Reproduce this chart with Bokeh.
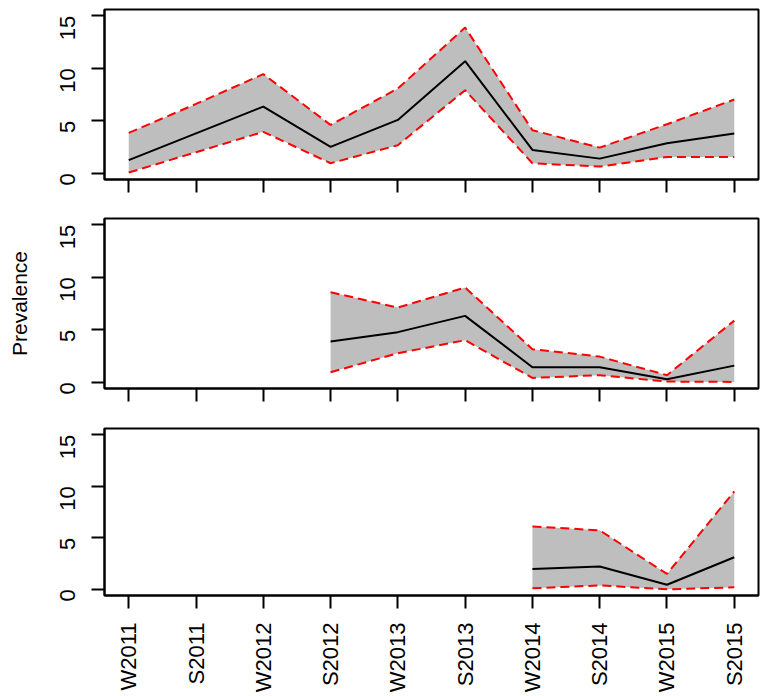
import math
from bokeh.plotting import figure
from bokeh.layouts import column
from bokeh.models import Range1d, FixedTicker, ColumnDataSource
from bokeh.embed import file_html
from bokeh.resources import INLINE

seasons = ["W2011", "S2011", "W2012", "S2012", "W2013", "S2013",
           "W2014", "S2014", "W2015", "S2015"]

p1_mean = [1.24, 3.8, 6.35, 2.51, 5.08, 10.68, 2.22, 1.39, 2.86, 3.78]
p1_upper = [3.84, 6.6, 9.44, 4.6, 8.07, 13.88, 4.1, 2.44, 4.67, 7.02]
p1_lower = [0.06, 2.0, 3.94, 0.95, 2.67, 7.91, 0.95, 0.63, 1.55, 1.55]

p2_mean = [None, None, None, 3.87, 4.77, 6.32, 1.43, 1.43, 0.29, 1.58]
p2_upper = [None, None, None, 8.58, 7.11, 9.02, 3.15, 2.44, 0.67, 5.87]
p2_lower = [None, None, None, 0.95, 2.76, 4.0, 0.41, 0.67, 0.06, 0.03]

p3_mean = [None, None, None, None, None, None, 1.96, 2.22, 0.44, 3.11]
p3_upper = [None, None, None, None, None, None, 6.1, 5.72, 1.49, 9.5]
p3_lower = [None, None, None, None, None, None, 0.1, 0.38, 0.0, 0.19]

y_ticks = [0, 5, 10, 15]
FONT = "Liberation Sans"
WIDTH = 760
LEFT = 104
FRAME_H = 170


def panel(mean, upper, lower, height, top, bottom, show_x, ylabel=None):
    p = figure(width=WIDTH, height=height, output_backend="svg",
               toolbar_location=None,
               x_range=Range1d(0.64, 10.36), y_range=Range1d(-0.6, 15.6),
               min_border_left=LEFT, min_border_right=2,
               min_border_top=top, min_border_bottom=bottom)
    p.grid.visible = False
    p.outline_line_color = "black"
    p.outline_line_width = 2
    p.background_fill_color = "white"
    p.border_fill_color = "white"

    idx = [i for i, m in enumerate(mean) if m is not None]
    src = ColumnDataSource(dict(
        x=[i + 1 for i in idx],
        m=[mean[i] for i in idx],
        u=[upper[i] for i in idx],
        l=[lower[i] for i in idx],
    ))
    p.varea(x="x", y1="l", y2="u", source=src, fill_color="#BEBEBE")
    p.line(x="x", y="u", source=src, line_color="red", line_width=2,
           line_dash="9 5")
    p.line(x="x", y="l", source=src, line_color="red", line_width=2,
           line_dash="9 5")
    p.line(x="x", y="m", source=src, line_color="black", line_width=2)

    xa = p.xaxis[0]
    xa.ticker = FixedTicker(ticks=list(range(1, len(seasons) + 1)))
    xa.major_tick_out = 13
    xa.major_tick_in = 0
    xa.minor_tick_out = 0
    xa.minor_tick_in = 0
    xa.axis_line_color = "black"
    xa.axis_line_width = 2
    xa.major_tick_line_width = 2
    if show_x:
        xa.major_label_overrides = {i + 1: s for i, s in enumerate(seasons)}
        xa.major_label_orientation = math.pi / 2
        xa.major_label_text_font = FONT
        xa.major_label_text_font_size = "22px"
        xa.major_label_text_color = "black"
        xa.major_label_standoff = 14
    else:
        xa.major_label_overrides = {i + 1: "" for i in range(len(seasons))}
        xa.major_label_text_font_size = "10px"
        xa.major_label_standoff = 0

    ya = p.yaxis[0]
    ya.ticker = FixedTicker(ticks=y_ticks)
    ya.major_tick_out = 13
    ya.major_tick_in = 0
    ya.minor_tick_out = 0
    ya.minor_tick_in = 0
    ya.axis_line_color = "black"
    ya.axis_line_width = 2
    ya.major_tick_line_width = 2
    ya.major_label_orientation = math.pi / 2
    ya.major_label_text_font = FONT
    ya.major_label_text_font_size = "22px"
    ya.major_label_text_color = "black"
    ya.major_label_standoff = 24
    if ylabel:
        ya.axis_label = ylabel
        ya.axis_label_text_font = FONT
        ya.axis_label_text_font_size = "21px"
        ya.axis_label_text_font_style = "normal"
        ya.axis_label_text_color = "black"
        ya.axis_label_standoff = 19
    return p


f1 = panel(p1_mean, p1_upper, p1_lower, 9 + FRAME_H + 30, 9, 30, False)
f2 = panel(p2_mean, p2_upper, p2_lower, 9 + FRAME_H + 31, 9, 31, False,
           ylabel="Prevalence")
f3 = panel(p3_mean, p3_upper, p3_lower, 9 + FRAME_H + 97, 9, 97, True)

layout = column(f1, f2, f3, spacing=0)
open("out.html", "w").write(file_html(layout, INLINE))
